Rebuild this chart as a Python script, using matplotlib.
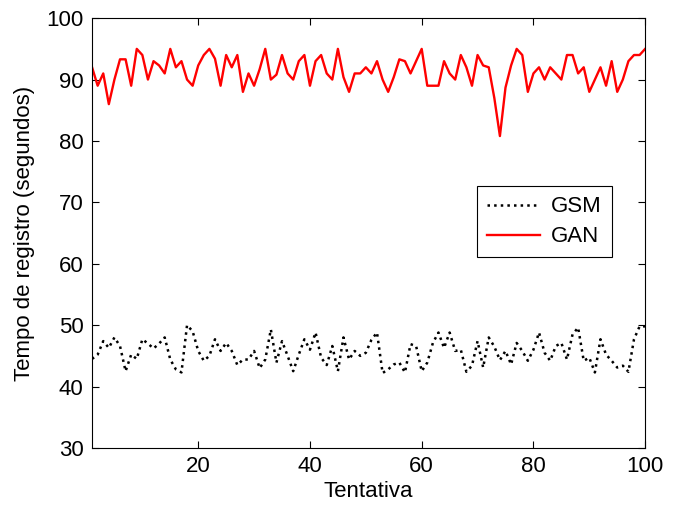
import matplotlib
matplotlib.use("Agg")
import matplotlib.pyplot as plt

plt.rcParams['font.family'] = ['Liberation Sans', 'DejaVu Sans']

tentativa = list(range(1, 101))

gan = [92, 89, 91, 86, 90, 93.3, 93.3, 89, 95, 94,
       90, 93, 92.3, 91, 95, 92, 93, 90, 89, 92.3,
       94, 95, 93.4, 89, 94, 92, 94, 88, 91, 89,
       91.7, 95, 90, 90.8, 94, 91, 90, 93, 94, 89,
       93, 94, 91, 90, 95, 90.4, 88, 91, 91, 92,
       91, 93, 90, 88, 90.4, 93.3, 93, 91, 93, 95,
       89, 89, 89, 93, 91, 90, 94, 92, 89, 94,
       92.3, 92, 87, 80.8, 88.7, 92.3, 95, 94, 88, 91,
       92, 90, 92, 91, 90, 94, 94, 91, 92, 88,
       90, 92, 89, 93, 88, 90, 93, 94, 94, 95]

gsm = [44.5, 45.2, 47.4, 46.3, 48, 46.6, 42.5, 45.2, 44.5, 47.7,
       47, 46.2, 47, 48, 44.4, 42.8, 42.3, 50, 49, 45.8,
       44.2, 45, 47.7, 45.8, 47.1, 45.8, 43.5, 44.4, 44.4, 45.8,
       43, 44.4, 49.3, 43.9, 47.4, 45, 42.5, 45.2, 47.7, 46,
       48.8, 44.7, 43.5, 46.6, 42.5, 48, 44.4, 45.8, 45, 45.5,
       47.6, 48.8, 42.2, 42.8, 43.6, 43.9, 42.3, 46.9, 46.6, 42.5,
       43.9, 47.1, 48.8, 46.3, 48.8, 45.8, 46, 42.4, 43.4, 47.4,
       43.1, 48, 46.5, 44.3, 45.8, 43.6, 47.1, 45.8, 44.2, 46,
       48.8, 45.5, 44.2, 46.6, 47.1, 44.4, 48.5, 49.6, 44.2, 44.7,
       42.3, 47.7, 45.2, 44.2, 43.1, 43.4, 42.4, 47.7, 49.8, 49.8]

fig = plt.figure(figsize=(6.82, 5.05), dpi=100)
ax = fig.add_axes([0.135, 0.113, 0.811, 0.851])

ax.plot(tentativa, gsm, color="black", linestyle=":", linewidth=1.8, label="GSM")
ax.plot(tentativa, gan, color="red", linestyle="-", linewidth=1.7, label="GAN")

ax.set_xlim(1, 100)
ax.set_ylim(30, 100)
ax.set_xticks([20, 40, 60, 80, 100])
ax.set_yticks([30, 40, 50, 60, 70, 80, 90, 100])
ax.tick_params(direction="in", top=True, right=True, length=5, labelsize=16, pad=6)
for s in ax.spines.values():
    s.set_linewidth(0.8)

ax.set_xlabel("Tentativa", fontsize=16, labelpad=3)
ax.set_ylabel("Tempo de registro (segundos)", fontsize=16, labelpad=8)

leg = ax.legend(loc="center right", bbox_to_anchor=(0.94, 0.526), fontsize=16,
                fancybox=False, edgecolor="black", framealpha=1,
                handlelength=2.4, handletextpad=0.5, borderpad=0.45,
                labelspacing=0.4, borderaxespad=0)
leg.get_frame().set_linewidth(0.8)

plt.savefig("out.png", dpi=100)
